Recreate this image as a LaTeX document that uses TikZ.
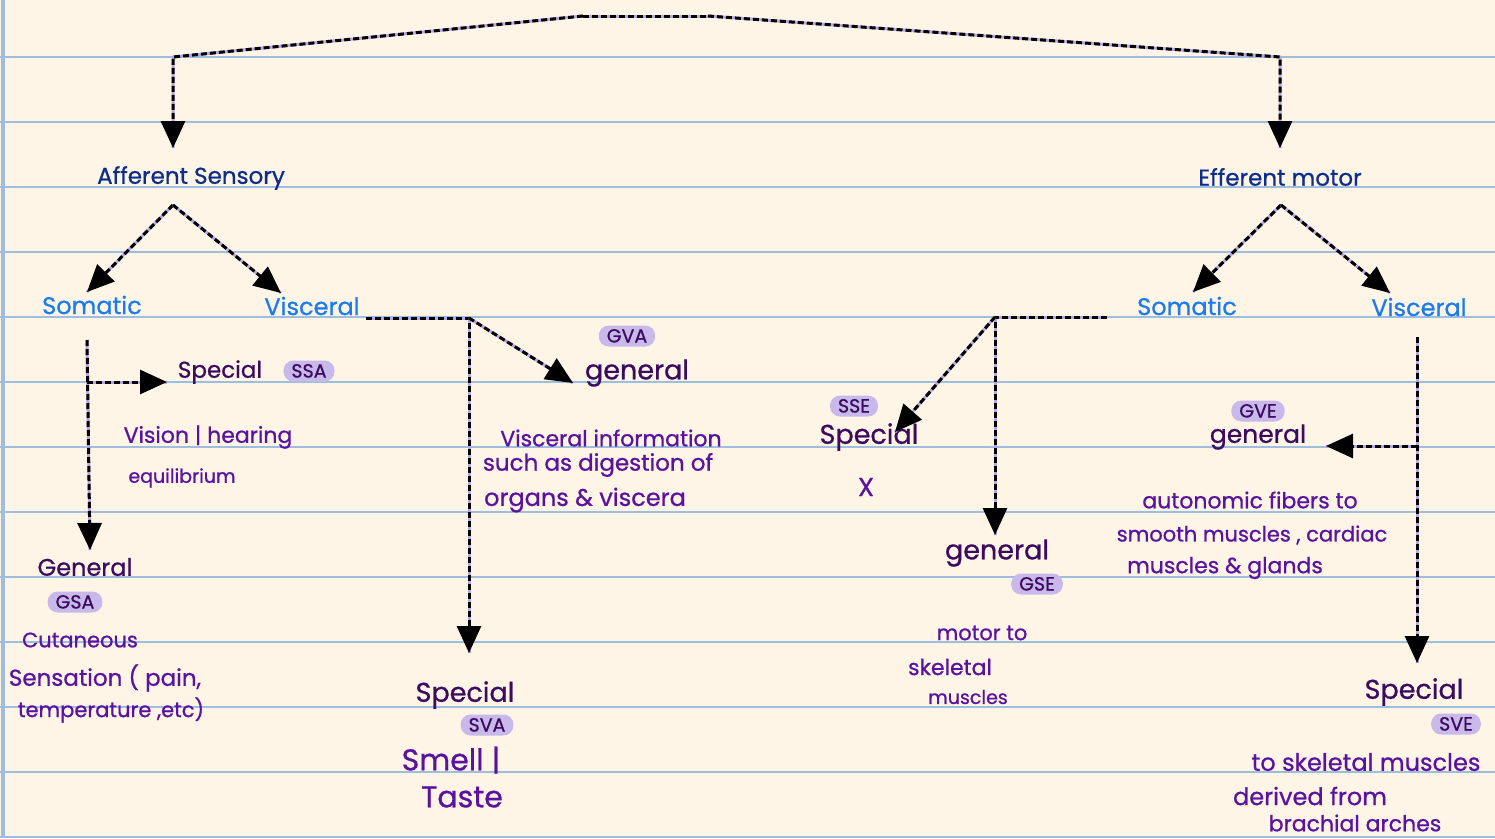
\documentclass[tikz,border=0pt]{standalone}
\usepackage{fontspec}
\setmainfont{Poppins}[FakeBold=0.8]
\usetikzlibrary{arrows.meta}
\definecolor{paper}{HTML}{FFF5E6}
\definecolor{rulec}{HTML}{9FBEDD}
\definecolor{navy}{HTML}{0C2D8C}
\definecolor{sky}{HTML}{1B7CF0}
\definecolor{plum}{HTML}{3B0B5F}
\definecolor{violetc}{HTML}{5A12A0}
\definecolor{lav}{HTML}{C9B9EA}
\definecolor{lavline}{HTML}{B9A6E6}
\newcommand{\fsz}[1]{\fontsize{#1}{#1}\selectfont}
\tikzset{
  conn/.style={draw=black, line width=3pt, dash pattern=on 6pt off 3pt,
    preaction={draw=lavline, line width=3pt, solid, arrows=-}},
  tipped/.style={-{Triangle[length=27pt,width=24pt]}},
  titletext/.style={text=navy, font=\fsz{23}, inner sep=0pt, anchor=center},
  cattext/.style={text=sky, font=\fsz{24}, inner sep=0pt},
  headtext/.style={text=plum, font=\fsz{24}, inner sep=0pt},
  desctext/.style={text=violetc, font=\fsz{22}, inner sep=0pt},
  badge/.style={fill=lav, text=plum, font=\fsz{19}, rounded corners=10pt,
    inner xsep=8pt, inner ysep=0pt, minimum height=21pt, text height=13pt, text depth=0pt},
}
\begin{document}
\begin{tikzpicture}[x=1pt,y=-1pt]
\useasboundingbox (0,0) rectangle (1495,838);
\fill[paper] (0,0) rectangle (1495,838);
\foreach \k in {0,...,12}{
  \draw[rulec, line width=2.6pt] (0,57+65*\k) -- (1495,57+65*\k);
}
\draw[rulec, line width=4pt] (3,0) -- (3,838);

% ---------- nodes ----------
\node[titletext] (aff) at (191,178) {Afferent Sensory};
\node[titletext] (eff) at (1280,177) {Efferent motor};

\node[cattext] (somA) at (92,305) {Somatic};
\node[cattext] (visA) at (312,306) {Visceral};
\node[cattext] (somE) at (1187,306) {Somatic};
\node[cattext] (visE) at (1419,307) {Visceral};

% afferent somatic special
\node[headtext, font=\fsz{23}] (spSSA) at (220,372) {Special};
\node[badge] (ssa) at (309,371) {SSA};
\node[desctext] (vision) at (208,437) {Vision | hearing};
\node[desctext, font=\fsz{19}] (equil) at (182,478) {equilibrium};

% afferent somatic general
\node[headtext] (genA) at (85,567) {General};
\node[badge] (gsa) at (75,602) {GSA};
\node[desctext, font=\fsz{21}] (cut) at (80,640) {Cutaneous};
\node[desctext, font=\fsz{23}] (sens) at (105,678) {Sensation ( pain,};
\node[desctext, font=\fsz{21}] (temp) at (111,710) {temperature ,etc)};

% afferent visceral general
\node[badge] (gva) at (627,336) {GVA};
\node[headtext, font=\fsz{27}] (genV) at (637,373) {general};
\node[desctext] (vinfo) at (611,438) {Visceral information};
\node[desctext, font=\fsz{23}] (such) at (598,465) {such as digestion of};
\node[desctext, font=\fsz{24}] (organs) at (585,500) {organs \& viscera};

% afferent visceral special
\node[headtext, font=\fsz{27}] (spSVA) at (465,695) {Special};
\node[badge] (sva) at (487,725) {SVA};
\node[desctext, font=\fsz{30}] (smell) at (451,760) {Smell |};
\node[desctext, font=\fsz{30}] (taste) at (462,797) {Taste};

% efferent somatic special
\node[badge] (sse) at (854,406) {SSE};
\node[headtext, font=\fsz{27}] (spSSE) at (869,437) {Special};
\node[desctext, font=\fsz{26}] (xmark) at (866,487) {X};

% efferent somatic general
\node[headtext, font=\fsz{27}] (genSE) at (997,553) {general};
\node[badge] (gse) at (1037,584) {GSE};
\node[desctext, font=\fsz{21}] (motor) at (982,633) {motor to};
\node[desctext] (skel) at (950,667) {skeletal};
\node[desctext, font=\fsz{19}] (musc) at (968,697) {muscles};

% efferent visceral general
\node[badge] (gve) at (1258,411) {GVE};
\node[headtext, font=\fsz{25}] (genVE) at (1258,437) {general};
\node[desctext] (auto) at (1250,500) {autonomic fibers to};
\node[desctext, font=\fsz{21}] (smooth) at (1252,535) {smooth muscles , cardiac};
\node[desctext] (glands) at (1225,568) {muscles \& glands};

% efferent visceral special
\node[headtext, font=\fsz{27}] (spSVE) at (1414,692) {Special};
\node[badge] (sve) at (1456,724) {SVE};
\node[desctext, font=\fsz{24}] (tosk) at (1366,762) {to skeletal muscles};
\node[desctext, font=\fsz{24}] (derived) at (1310,796) {derived from};
\node[desctext, font=\fsz{22}] (brach) at (1355,823) {brachial arches};

% ---------- connector coordinates ----------
\coordinate (c1) at (583,16);
\coordinate (c2) at (708,16);
\coordinate (kL) at (173,57);
\coordinate (kR) at (1280,57);
\coordinate (tipAff) at (173,148);
\coordinate (tipEff) at (1280,148);

\coordinate (aA) at (173,205);
\coordinate (tipSomA) at (87,292);
\coordinate (tipVisA) at (281,293);
\coordinate (sA0) at (87,340);
\coordinate (sA1) at (87,382);
\coordinate (tipGenA) at (90,550);
\coordinate (tipSSA) at (167,382);
\coordinate (vA0) at (366,318);
\coordinate (vA1) at (469,318);
\coordinate (tipSVA) at (469,653);
\coordinate (tipGVA) at (573,383);

\coordinate (eA) at (1281,205);
\coordinate (tipSomE) at (1193,292);
\coordinate (tipVisE) at (1390,293);
\coordinate (sE0) at (1107,317);
\coordinate (sE1) at (995,317);
\coordinate (tipGSE) at (995,535);
\coordinate (tipSSE) at (895,432);
\coordinate (vE0) at (1417,337);
\coordinate (vE1) at (1417,446);
\coordinate (tipSVE) at (1417,663);
\coordinate (tipGVE) at (1326,446);

% ---------- connectors ----------
\draw[conn] (c1) -- (c2);
\draw[conn, tipped] (c1) -- (kL) -- (tipAff);
\draw[conn, tipped] (c2) -- (kR) -- (tipEff);

\draw[conn, tipped] (aA) -- (tipSomA);
\draw[conn, tipped] (aA) -- (tipVisA);
\draw[conn, tipped] (sA0) -- (tipGenA);
\draw[conn, tipped] (sA1) -- (tipSSA);
\draw[conn, tipped] (vA0) -- (vA1) -- (tipSVA);
\draw[conn, tipped] (vA1) -- (tipGVA);

\draw[conn, tipped] (eA) -- (tipSomE);
\draw[conn, tipped] (eA) -- (tipVisE);
\draw[conn, tipped] (sE0) -- (sE1) -- (tipGSE);
\draw[conn, tipped] (sE1) -- (tipSSE);
\draw[conn, tipped] (vE0) -- (tipSVE);
\draw[conn, tipped] (vE1) -- (tipGVE);
\end{tikzpicture}
\end{document}
